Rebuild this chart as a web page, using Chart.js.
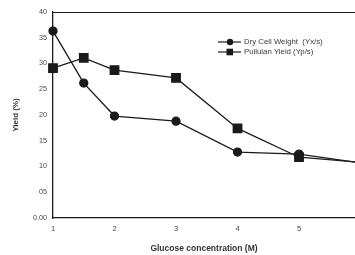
<!DOCTYPE html>
<html><head><meta charset="utf-8">
<script src="https://cdn.jsdelivr.net/npm/chart.js@4"></script>
<style>html,body{margin:0;padding:0;background:#fff}#w{width:355px;height:255px}</style>
</head><body><div id="w"><canvas id="c"></canvas></div>
<script>
const glucose = [1, 1.5, 2, 3, 4, 5, 6];
const dryCellWeight = [36.3, 26.2, 19.8, 18.8, 12.8, 12.4, 10.7];
const pullulanYield = [29.1, 31.1, 28.7, 27.2, 17.4, 11.8, 10.8];
const seriesNames = ['Dry Cell Weight  (Yx/s)', 'Pullulan Yield (Yp/s)'];
const yTickValues = [0, 5, 10, 15, 20, 25, 30, 35, 40];
const yTickLabels = ['0.00', '05', '10', '15', '20', '25', '30', '35', '40'];
const xTickValues = [1, 2, 3, 4, 5];
const xTickLabels = ['1', '2', '3', '4', '5'];

const ink = '#1a1a1a';
const fontFam = '"Liberation Sans", Arial, sans-serif';

const frame = {
  id: 'frame',
  afterDraw(ch) {
    const {ctx, chartArea: a} = ch;
    ctx.save();
    ctx.strokeStyle = ink; ctx.lineWidth = 1.2;
    ctx.beginPath(); ctx.moveTo(a.left, a.top + 0.5); ctx.lineTo(ch.width, a.top + 0.5); ctx.stroke();
    // legend
    const lx = 218, ly = [42, 52];
    const styles = ['circle', 'rect'];
    ctx.font = '7.8px ' + fontFam;
    ctx.textBaseline = 'middle';
    for (let i = 0; i < 2; i++) {
      ctx.strokeStyle = ink; ctx.lineWidth = 1.2;
      ctx.beginPath(); ctx.moveTo(lx, ly[i]); ctx.lineTo(lx + 23, ly[i]); ctx.stroke();
      ctx.fillStyle = ink;
      if (styles[i] === 'circle') { ctx.beginPath(); ctx.arc(lx + 12, ly[i], 3.2, 0, Math.PI * 2); ctx.fill(); }
      else ctx.fillRect(lx + 8.5, ly[i] - 3.3, 6.6, 6.6);
      ctx.fillStyle = '#3a3a3a';
      ctx.fillText(seriesNames[i], lx + 26, ly[i]);
    }
    ctx.restore();
  }
};

new Chart(document.getElementById('c'), {
  type: 'line',
  data: {
    datasets: [
      { label: seriesNames[0], data: glucose.map((x, i) => ({x, y: dryCellWeight[i]})),
        borderColor: ink, backgroundColor: ink, borderWidth: 1.3, pointStyle: 'circle', pointRadius: 4, tension: 0, clip: false },
      { label: seriesNames[1], data: glucose.map((x, i) => ({x, y: pullulanYield[i]})),
        borderColor: ink, backgroundColor: ink, borderWidth: 1.3, pointStyle: 'rect', pointRadius: 6, tension: 0, clip: false }
    ]
  },
  options: {
    responsive: true, maintainAspectRatio: false, animation: false,
    layout: { autoPadding: false, padding: { top: 12, right: 0, left: 0, bottom: 0 } },
    plugins: { legend: { display: false }, tooltip: { enabled: false } },
    scales: {
      x: {
        type: 'linear', min: 1, max: 5.91,
        afterBuildTicks: s => { s.ticks = xTickValues.map(v => ({value: v})); },
        afterFit: s => { s.height = 37; s.paddingRight = 0; s.paddingLeft = 0; },
        grid: { display: false, drawTicks: true, tickLength: 3, tickColor: ink },
        border: { color: ink, width: 1.3 },
        ticks: { autoSkip: false, maxRotation: 0, padding: 3, color: '#444', font: { family: fontFam, size: 7.5 },
          callback: (v) => { const i = xTickValues.indexOf(v); return i >= 0 ? xTickLabels[i] : ''; } },
        title: { display: true, text: 'Glucose concentration (M)', color: '#333', font: { family: fontFam, size: 8.5, weight: 'bold' }, padding: { top: 0, bottom: 1 } }
      },
      y: {
        min: 0, max: 40,
        afterBuildTicks: s => { s.ticks = yTickValues.map(v => ({value: v})); },
        afterFit: s => { s.width = 53; },
        grid: { display: false, drawTicks: true, tickLength: 3, tickColor: ink },
        border: { color: ink, width: 1.3 },
        ticks: { padding: 3, color: '#444', font: { family: fontFam, size: 7.2 },
          callback: (v) => { const i = yTickValues.indexOf(v); return i >= 0 ? yTickLabels[i] : ''; } },
        title: { display: true, text: 'Yield (%)', color: '#333', font: { family: fontFam, size: 8, weight: 'bold' }, padding: { top: 11, bottom: 0 } }
      }
    }
  },
  plugins: [frame]
});
</script></body></html>
